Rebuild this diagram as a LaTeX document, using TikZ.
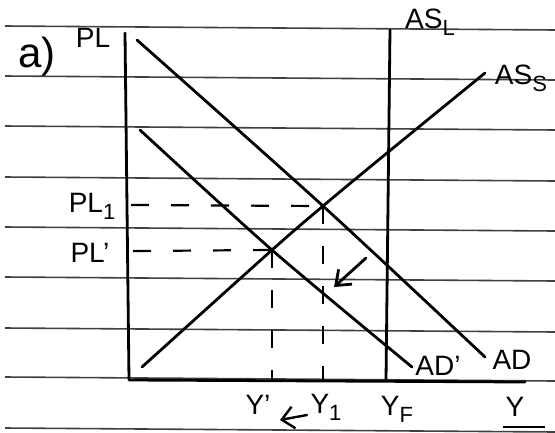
\documentclass[tikz,border=0pt]{standalone}
\usepackage{fontspec}
\setmainfont{Liberation Sans}
\usetikzlibrary{arrows.meta}
\newcommand{\lowsub}[1]{\raisebox{-7pt}{\fontsize{22}{22}\selectfont #1}}
\begin{document}
\begin{tikzpicture}[x=1pt,y=-1pt,
  rule/.style={black!75, line width=1.6pt},
  pen/.style={black, line width=2.8pt, line cap=round, line join=round},
  dsh/.style={black, line width=2.2pt, dash pattern=on 18pt off 22pt},
  lbl/.style={font=\fontsize{28}{30}\selectfont, inner sep=0pt}]
\useasboundingbox (0,0) rectangle (555,432);
\fill[white] (0,0) rectangle (555,432);
% ruled paper
\foreach \y in {26,76,126,177,227,277,328,377,428}
  \draw[rule] (5,\y) -- (555,\y+4);
% key points
\coordinate (E1) at (323,206);
\coordinate (E2) at (272,250);
\coordinate (O) at (129,380);
\coordinate (ytop) at (125,33);
\coordinate (xend) at (525,382);
\coordinate (LTop) at (390,30);
\coordinate (LBot) at (386,381);
\coordinate (E1x) at (323,380);
\coordinate (E2x) at (272,380);
\coordinate (E1y) at (131,205);
\coordinate (E2y) at (133,251);
\coordinate (arrS) at (366,258);
\coordinate (arrE) at (334,287);
\coordinate (yarrS) at (307,415);
\coordinate (yarrE) at (280,420);
% axes
\draw[pen] (ytop) -- (O) -- (xend);
% long-run AS
\draw[pen] (LTop) -- (LBot);
% AD
\draw[pen] plot[smooth] coordinates {(137,40) (323,206) (485,357)};
% AD'
\draw[pen] plot[smooth] coordinates {(140,130) (272,250) (412,367)};
% short-run AS
\draw[pen] plot[smooth] coordinates {(142,367) (272,250) (323,206) (387,153) (485,73)};
% dashed guides
\draw[dsh] (E1y) -- (E1);
\draw[dsh] (E2y) -- (E2);
\draw[dsh] (E1) -- (E1x);
\draw[dsh] (E2) -- (E2x);
% shift arrows
\draw[pen, -{Straight Barb[length=13pt,width=20pt]}] (arrS) -- (arrE);
\draw[black, line width=2.4pt, line cap=round, -{Straight Barb[length=12pt,width=22pt]}] (yarrS) -- (yarrE);
% labels
\node[lbl, font=\fontsize{42}{44}\selectfont] (la) at (37,57) {a)};
\node[lbl] (lPL) at (93,38) {PL};
\node[lbl] (lASL) at (430,22) {AS\lowsub{L}};
\node[lbl] (lASS) at (521,78) {AS\lowsub{S}};
\node[lbl] (lPL1) at (92,206) {PL\lowsub{1}};
\node[lbl] (lPLp) at (90,253) {PL'};
\node[lbl] (lADp) at (438,366) {AD'};
\node[lbl] (lAD) at (512,360) {AD};
\node[lbl] (lYp) at (258,405) {Y'};
\node[lbl] (lY1) at (326,407) {Y\lowsub{1}};
\node[lbl] (lYF) at (397,409) {Y\lowsub{F}};
\node[lbl] (lY) at (515,407) {Y};
\draw[black, line width=2.4pt] (503,427) -- (545,427);
\end{tikzpicture}
\end{document}
